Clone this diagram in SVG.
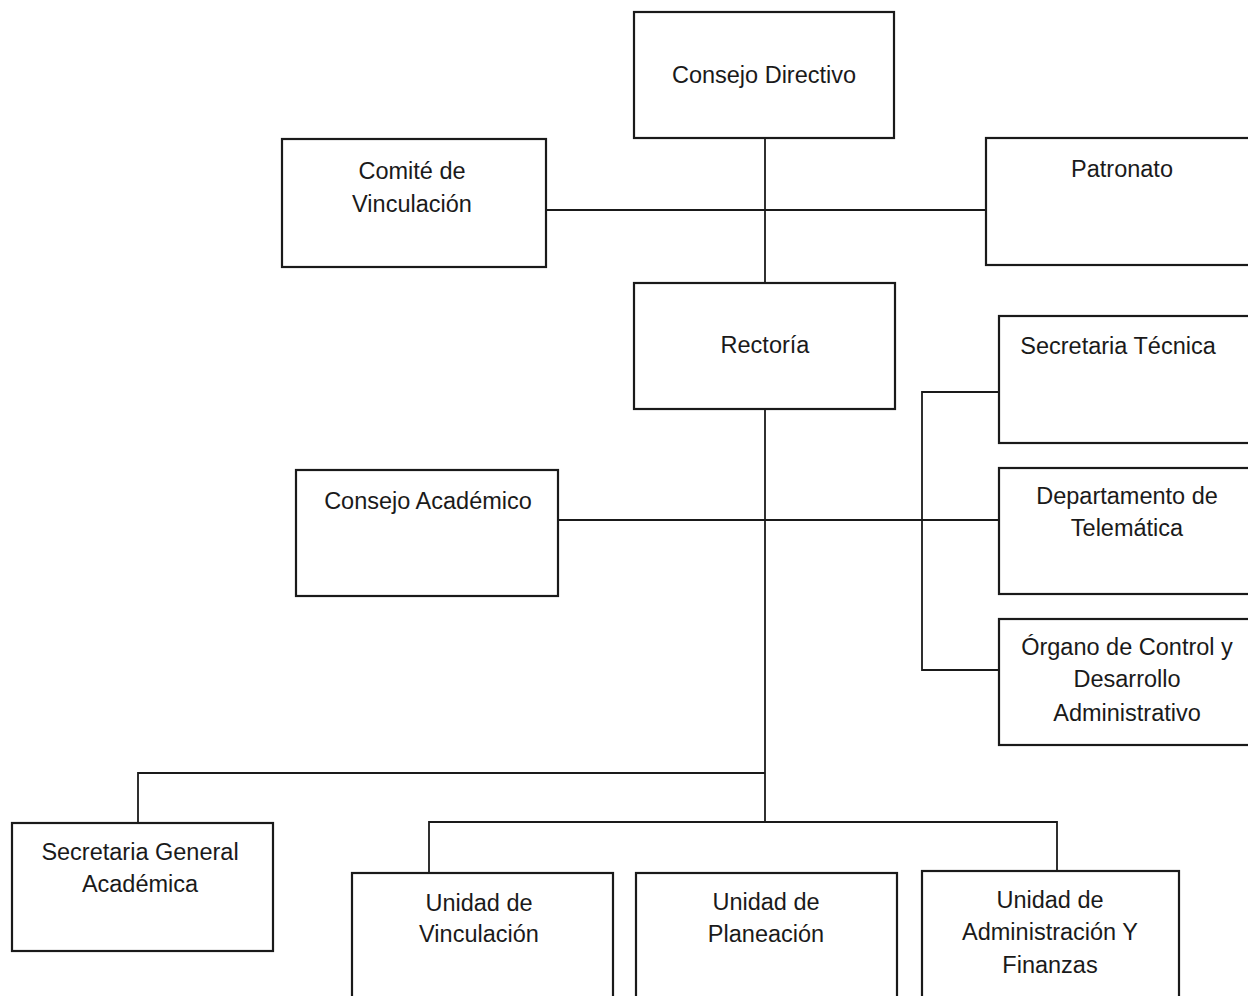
<svg xmlns="http://www.w3.org/2000/svg" width="1248" height="996" viewBox="0 0 1248 996">
<style>
.box{fill:#fff;stroke:#1a1a1a;stroke-width:2.2}
.ln{fill:none;stroke:#1a1a1a;stroke-width:1.8}
text{font-family:"Liberation Sans",Arial,sans-serif;font-size:23.5px;fill:#1a1a1a;text-anchor:middle}
</style>
<rect width="1248" height="996" fill="#fff"/>
<g id="connectors">
<path class="ln" d="M765 138V283"/>
<path class="ln" d="M546 210H986"/>
<path class="ln" d="M765 409V822"/>
<path class="ln" d="M558 520H999"/>
<path class="ln" d="M999 392H922V670H999"/>
<path class="ln" d="M765 773H138V823"/>
<path class="ln" d="M429 873V822H1057V871"/>
</g>
<g id="consejo-directivo">
<rect class="box" x="634" y="12" width="260" height="126"/>
<text x="764" y="83">Consejo Directivo</text>
</g>
<g id="comite-vinculacion">
<rect class="box" x="282" y="139" width="264" height="128"/>
<text x="412" y="179">Comité de</text>
<text x="412" y="212">Vinculación</text>
</g>
<g id="patronato">
<rect class="box" x="986" y="138" width="290" height="127"/>
<text x="1122" y="177">Patronato</text>
</g>
<g id="rectoria">
<rect class="box" x="634" y="283" width="261" height="126"/>
<text x="765" y="353">Rectoría</text>
</g>
<g id="secretaria-tecnica">
<rect class="box" x="999" y="316" width="280" height="127"/>
<text x="1118" y="354">Secretaria Técnica</text>
</g>
<g id="departamento-telematica">
<rect class="box" x="999" y="468" width="280" height="126"/>
<text x="1127" y="504">Departamento de</text>
<text x="1127" y="536">Telemática</text>
</g>
<g id="organo-control">
<rect class="box" x="999" y="619" width="280" height="126"/>
<text x="1127" y="655">Órgano de Control y</text>
<text x="1127" y="687">Desarrollo</text>
<text x="1127" y="721">Administrativo</text>
</g>
<g id="consejo-academico">
<rect class="box" x="296" y="470" width="262" height="126"/>
<text x="428" y="509">Consejo Académico</text>
</g>
<g id="secretaria-general">
<rect class="box" x="12" y="823" width="261" height="128"/>
<text x="140" y="860">Secretaria General</text>
<text x="140" y="892">Académica</text>
</g>
<g id="unidad-vinculacion">
<rect class="box" x="352" y="873" width="261" height="140"/>
<text x="479" y="911">Unidad de</text>
<text x="479" y="942">Vinculación</text>
</g>
<g id="unidad-planeacion">
<rect class="box" x="636" y="873" width="261" height="140"/>
<text x="766" y="910">Unidad de</text>
<text x="766" y="942">Planeación</text>
</g>
<g id="unidad-administracion">
<rect class="box" x="922" y="871" width="257" height="142"/>
<text x="1050" y="908">Unidad de</text>
<text x="1050" y="940">Administración Y</text>
<text x="1050" y="973">Finanzas</text>
</g>
</svg>
